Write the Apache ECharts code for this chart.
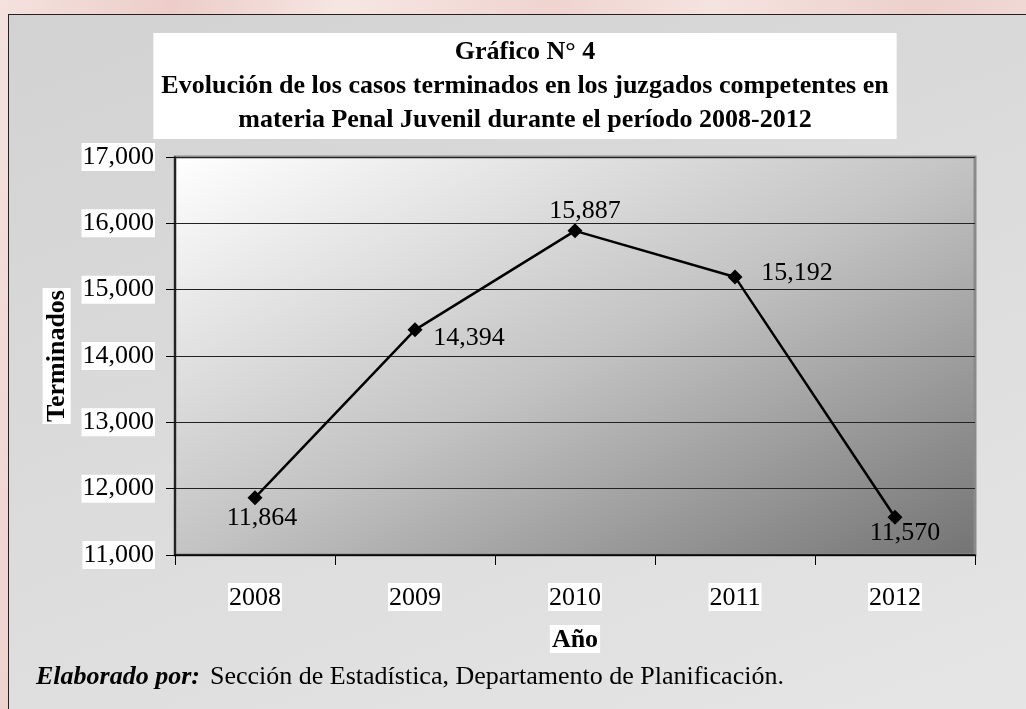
<!DOCTYPE html>
<html lang="es">
<head>
    <meta charset="UTF-8">
    <title>Gráfico N° 4</title>
    <script src="https://cdn.jsdelivr.net/npm/echarts@6/dist/echarts.min.js"></script>
    <style>
        html, body {
            margin: 0;
            padding: 0;
            width: 1026px;
            height: 709px;
            overflow: hidden;
            background: linear-gradient(100deg, #f4e2de 0%, #eccdc9 15%, #f6e6e2 30%, #efd4d0 48%, #f5e3df 62%, #ecd0cc 80%, #f4e1dd 100%);
        }
        .marco {
            position: absolute;
            left: 8px;
            top: 14px;
            width: 1040px;
            height: 720px;
            border: 1px solid #222;
            background: linear-gradient(160deg, #d2d2d2 0%, #dcdcdc 50%, #e6e6e6 100%);
        }
        #container {
            position: absolute;
            left: 0;
            top: 0;
            width: 1026px;
            height: 709px;
        }
    </style>
</head>
<body>
<div class="marco"></div>
<div id="container"></div>
<script type="text/javascript">
    // datos del gráfico
    let anios = ['2008', '2009', '2010', '2011', '2012'];
    let terminados = [11864, 14394, 15887, 15192, 11570];
    let yMin = 11000, yMax = 17000, yPaso = 1000;

    // desplazamiento de cada etiqueta respecto a su punto
    let labelOffsets = [[7, 20], [54, 8], [10, -20], [62, -4], [10, 16]];

    let fuente = "'Liberation Serif', 'Times New Roman', serif";
    let fmt = function (v) { return Number(v).toLocaleString('en-US'); };

    let dom = document.getElementById("container");
    let myChart = echarts.init(dom, null, {renderer: 'canvas'});

    // área de trazado (px)
    let gL = 175, gT = 157, gW = 800, gH = 398;
    // degradado diagonal: esquinas opuestas al mismo tono
    let diag = Math.sqrt(gW * gW + gH * gH);
    let proy = 2 * gW * gH / diag;
    let fondo = new echarts.graphic.LinearGradient(
        gL, gT, gL + gH / diag * proy, gT + gW / diag * proy,
        [
            {offset: 0, color: '#ffffff'},
            {offset: 0.5, color: '#c4c4c4'},
            {offset: 1, color: '#747474'}
        ], true);

    let option = {
        animation: false,
        backgroundColor: 'transparent',
        title: [
            {
                text: 'Gráfico N° 4\nEvolución de los casos terminados en los juzgados competentes en\nmateria Penal Juvenil durante el período 2008-2012',
                left: 517,
                top: 33,
                textAlign: 'center',
                backgroundColor: '#fff',
                padding: [2, 8, 2, 8],
                textStyle: {
                    fontFamily: fuente,
                    fontSize: 26,
                    fontWeight: 'bold',
                    lineHeight: 34,
                    color: '#000'
                }
            },
            {
                text: '{b|Elaborado por:}  {n|Sección de Estadística, Departamento de Planificación.}',
                left: 36,
                top: 664,
                padding: 0,
                textStyle: {
                    fontWeight: 'normal',
                    rich: {
                        b: {fontFamily: fuente, fontSize: 26, fontWeight: 'bold', fontStyle: 'italic', color: '#000'},
                        n: {fontFamily: fuente, fontSize: 26, fontWeight: 'normal', color: '#000'}
                    }
                }
            }
        ],
        grid: {
            left: gL,
            right: 1026 - gL - gW,
            top: gT,
            bottom: 709 - gT - gH,
            show: true,
            borderWidth: 3,
            borderColor: '#8a8a8a',
            backgroundColor: fondo
        },
        xAxis: {
            type: 'category',
            data: anios,
            boundaryGap: true,
            name: 'Año',
            nameLocation: 'middle',
            nameGap: 70,
            nameTextStyle: {
                fontFamily: fuente,
                fontSize: 26,
                fontWeight: 'bold',
                color: '#000',
                backgroundColor: '#fff',
                padding: [2, 2, 0, 2]
            },
            axisLine: {lineStyle: {color: '#000', width: 1.5}},
            axisTick: {show: true, interval: 0, length: 10, lineStyle: {color: '#000'}},
            axisLabel: {
                margin: 28,
                fontFamily: fuente,
                fontSize: 26,
                color: '#000',
                backgroundColor: '#fff',
                padding: [2, 1, 0, 1]
            },
            splitLine: {show: false}
        },
        yAxis: {
            type: 'value',
            min: yMin,
            max: yMax,
            interval: yPaso,
            name: 'Terminados',
            nameLocation: 'middle',
            nameGap: 103,
            nameRotate: 90,
            nameTextStyle: {
                fontFamily: fuente,
                fontSize: 26,
                fontWeight: 'bold',
                color: '#000',
                backgroundColor: '#fff',
                padding: [2, 2, 0, 2]
            },
            axisLine: {show: true, lineStyle: {color: '#000', width: 1.5}},
            axisTick: {show: true, length: 9, lineStyle: {color: '#000'}},
            axisLabel: {
                margin: 20,
                formatter: fmt,
                fontFamily: fuente,
                fontSize: 26,
                color: '#000',
                backgroundColor: '#fff',
                padding: [2, 1, 0, 1]
            },
            splitLine: {show: true, lineStyle: {color: '#222', width: 1}}
        },
        series: [
            {
                name: 'Terminados',
                type: 'line',
                data: terminados.map(function (v, i) {
                    return {value: v, label: {offset: labelOffsets[i]}};
                }),
                symbol: 'diamond',
                symbolSize: 15,
                itemStyle: {color: '#000'},
                lineStyle: {color: '#000', width: 2.5},
                label: {
                    show: true,
                    position: 'inside',
                    formatter: function (p) { return fmt(p.value); },
                    fontFamily: fuente,
                    fontSize: 26,
                    color: '#000'
                },
                emphasis: {disabled: true}
            }
        ]
    };
    myChart.setOption(option);
</script>
</body>
</html>
